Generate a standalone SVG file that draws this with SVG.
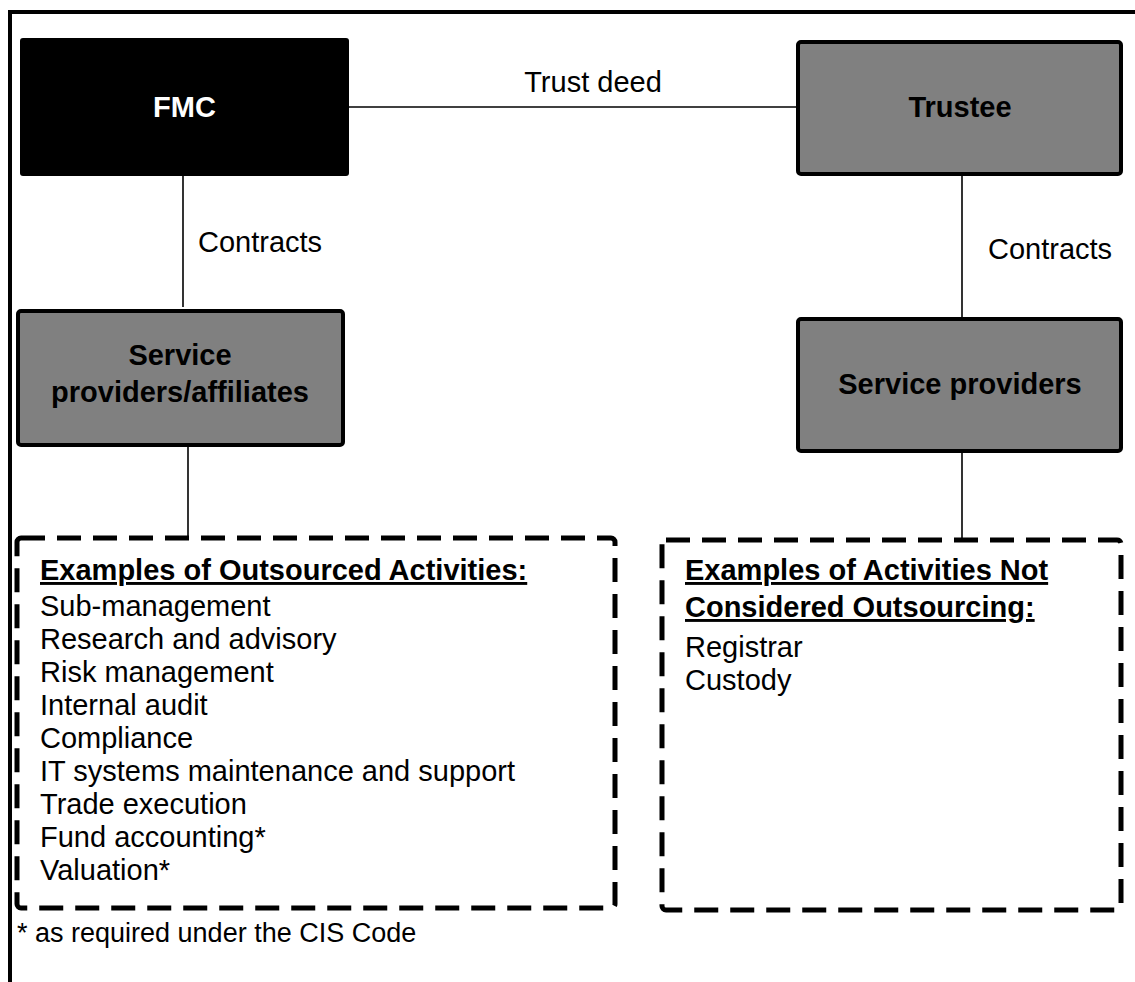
<svg xmlns="http://www.w3.org/2000/svg" width="1135" height="982" viewBox="0 0 1135 982">
<style>
  text { font-family: "Liberation Sans", Arial, sans-serif; font-size: 29px; fill: #000; }
  .b { font-weight: bold; }
  .w { fill: #fff; }
  .c { text-anchor: middle; }
  .u { text-decoration: underline; }
  .box { fill: #808080; stroke: #000; stroke-width: 4; }
  .dash { fill: none; stroke: #000; stroke-width: 5; stroke-dasharray: 24 12; }
  .conn { stroke: #000; stroke-width: 1.6; fill: none; }
  .frame { stroke: #000; stroke-width: 4; fill: none; }
</style>
<rect x="0" y="0" width="1135" height="982" fill="#fff"/>
<path class="frame" d="M10,990 L10,12 L1145,12"/>
<g id="connectors">
  <line class="conn" x1="349" y1="107" x2="796" y2="107"/>
  <line class="conn" x1="183" y1="176" x2="183" y2="307"/>
  <line class="conn" x1="962" y1="175" x2="962" y2="317"/>
  <line class="conn" x1="188" y1="447" x2="188" y2="538"/>
  <line class="conn" x1="962" y1="452" x2="962" y2="540"/>
  <text x="593" y="92" class="c">Trust deed</text>
  <text x="198" y="252">Contracts</text>
  <text x="988" y="259">Contracts</text>
</g>
<g id="fmc">
  <rect x="20" y="38" width="329" height="138" rx="3" fill="#000"/>
  <text x="184.5" y="117" class="b w c">FMC</text>
</g>
<g id="trustee">
  <rect class="box" x="798" y="42" width="323" height="132" rx="3"/>
  <text x="960" y="117" class="b c">Trustee</text>
</g>
<g id="sp-affiliates">
  <rect class="box" x="18" y="311" width="325" height="134" rx="3"/>
  <text x="180" y="365" class="b c">Service</text>
  <text x="180" y="402" class="b c">providers/affiliates</text>
</g>
<g id="sp-right">
  <rect class="box" x="798" y="319" width="323" height="132" rx="3"/>
  <text x="960" y="394" class="b c">Service providers</text>
</g>
<g id="outsourced">
  <rect class="dash" x="17" y="538" width="598" height="370" rx="4"/>
  <text x="40" y="580" class="b u">Examples of Outsourced Activities:</text>
  <text x="40" y="616">Sub-management</text>
  <text x="40" y="649">Research and advisory</text>
  <text x="40" y="682">Risk management</text>
  <text x="40" y="715">Internal audit</text>
  <text x="40" y="748">Compliance</text>
  <text x="40" y="781">IT systems maintenance and support</text>
  <text x="40" y="814">Trade execution</text>
  <text x="40" y="847">Fund accounting*</text>
  <text x="40" y="880">Valuation*</text>
</g>
<g id="not-outsourced">
  <rect class="dash" x="662" y="540" width="459" height="370" rx="4"/>
  <text x="685" y="580" class="b u">Examples of Activities Not</text>
  <text x="685" y="617" class="b u">Considered Outsourcing:</text>
  <text x="685" y="657">Registrar</text>
  <text x="685" y="690">Custody</text>
</g>
<g id="footnote">
  <text x="17" y="942" style="font-size:27px">* as required under the CIS Code</text>
</g>
</svg>
